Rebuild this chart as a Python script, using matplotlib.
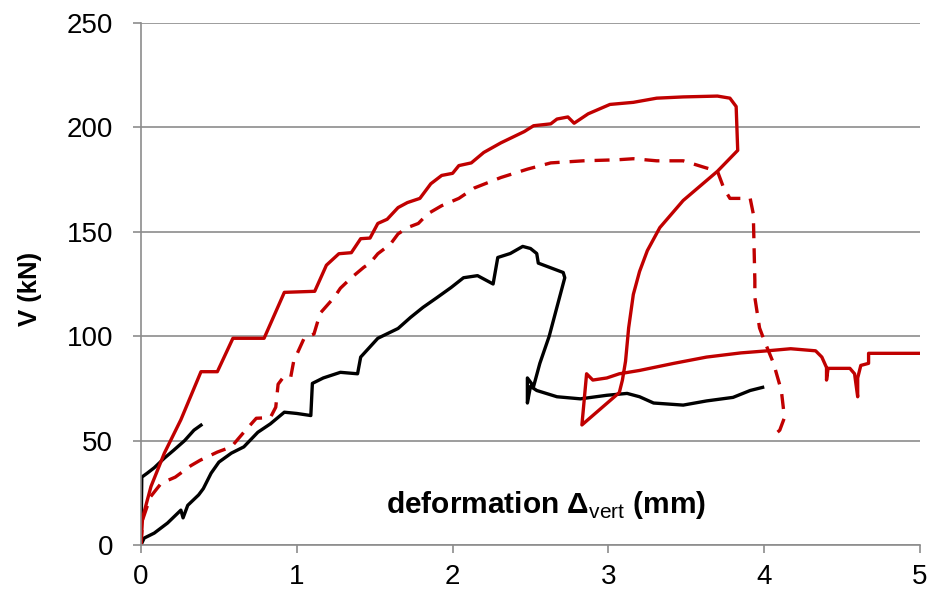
import matplotlib
matplotlib.use('Agg')
import matplotlib.pyplot as plt

plt.rcParams['font.family'] = ['Liberation Sans', 'DejaVu Sans']
plt.rcParams['mathtext.fontset'] = 'custom'
plt.rcParams['mathtext.rm'] = 'Liberation Sans'

# red solid curve (test with unloading loop)
red_x = [0, 0.01, 0.064, 0.15, 0.256, 0.385, 0.49, 0.59, 0.79, 0.92, 1.115, 1.19,
         1.27, 1.35, 1.41, 1.47, 1.52, 1.58, 1.65, 1.71, 1.79, 1.86, 1.93, 2.0,
         2.04, 2.12, 2.2, 2.31, 2.46, 2.52, 2.63, 2.67, 2.74, 2.78, 2.87, 3.01,
         3.16, 3.31, 3.48, 3.70, 3.78, 3.82, 3.83, 3.70, 3.48, 3.33, 3.25, 3.20,
         3.16, 3.13, 3.11, 3.09, 3.07, 2.83, 2.86, 2.9, 2.99, 3.07, 3.2, 3.42,
         3.63, 3.85, 4.02, 4.17, 4.33, 4.37, 4.40, 4.40, 4.41, 4.55, 4.58, 4.6,
         4.6, 4.62, 4.67, 4.67, 5.0]
red_y = [0, 13, 28, 44, 60, 83, 83, 99, 99, 121, 121.5, 134,
         139.5, 140, 146.7, 147, 154, 156, 161.6, 164, 166, 173, 177, 178,
         181.7, 183, 188, 192.6, 198, 200.8, 201.7, 204, 205, 202, 206.5, 211,
         212, 214, 214.6, 215, 214, 210, 189, 179, 165, 152, 141, 131,
         120, 104, 88, 79, 73, 57.5, 82, 79, 80, 82, 83.6, 87,
         90, 92, 93, 94, 93, 90, 85, 79, 84.6, 84.6, 82, 71,
         80, 86, 87, 91.8, 91.8]

# red dashed curve
dash_x = [0, 0.01, 0.06, 0.13, 0.22, 0.32, 0.38, 0.49, 0.58, 0.66, 0.74, 0.83,
          0.865, 0.88, 0.91, 0.96, 0.98, 1.05, 1.11, 1.15, 1.24, 1.28, 1.35,
          1.43, 1.47, 1.52, 1.6, 1.65, 1.71, 1.78, 1.84, 1.93, 2.04, 2.14, 2.31,
          2.48, 2.63, 2.84, 3.06, 3.16, 3.31, 3.48, 3.61, 3.70, 3.74, 3.78, 3.91,
          3.93, 3.94, 3.94, 3.97, 4.0, 4.06, 4.11, 4.13, 4.1, 4.05]
dash_y = [0, 12, 23, 29.6, 32.5, 38, 40.6, 44.5, 47, 54, 60.7, 61,
          66, 77, 80, 80, 88, 99.5, 101, 111, 118.6, 123, 128,
          133, 135, 139.5, 144, 149, 152, 154, 158.6, 162.5, 166, 171, 176,
          180, 183, 184, 184.5, 185, 184, 184, 181, 179, 171, 166, 166,
          158.6, 126.7, 118.5, 104, 98, 87, 74, 61, 55, 51.6]

# black long curve
blk_x = [0, 0.02, 0.085, 0.17, 0.256, 0.27, 0.3, 0.37, 0.4, 0.45, 0.5, 0.58,
         0.66, 0.75, 0.83, 0.92, 1.0, 1.09, 1.1, 1.17, 1.28, 1.39, 1.41, 1.52,
         1.65, 1.73, 1.81, 1.9, 1.99, 2.07, 2.16, 2.26, 2.29, 2.37, 2.45, 2.5,
         2.54, 2.55, 2.71, 2.72, 2.62, 2.56, 2.52, 2.48, 2.48, 2.5, 2.54, 2.67,
         2.82, 2.99, 3.12, 3.2, 3.29, 3.48, 3.63, 3.8, 3.91, 3.99]
blk_y = [0, 3.3, 5.7, 10.5, 16.7, 13, 19, 24, 27, 34.4, 39.7, 44,
         47, 54, 58, 63.6, 63, 62, 77.4, 80, 82.7, 82, 90, 99,
         103.7, 109, 113.8, 118.5, 123.3, 128, 129, 125, 137.7, 139.6, 143, 142,
         139.6, 135, 130.5, 128, 100, 87, 76, 80, 68, 76, 74, 71,
         70, 71.7, 72.6, 71, 68, 67, 69, 70.7, 74, 75.5]

# black short curve
short_x = [0, 0.005, 0.04, 0.085, 0.15, 0.21, 0.28, 0.34, 0.385]
short_y = [0, 32.5, 34.4, 37, 41.6, 45.4, 50, 55, 57.4]

red = '#C00000'
grey = '#8c8c8c'

fig = plt.figure(figsize=(9.42, 5.96), dpi=100)
ax = fig.add_axes([141/942, 51/596, 779/942, 522/596])

lw = 2.4
ax.plot(short_x, short_y, color='black', lw=lw, solid_joinstyle='round')
ax.plot(blk_x, blk_y, color='black', lw=lw, solid_joinstyle='round')
ax.plot(dash_x, dash_y, color=red, lw=lw, dashes=(4.5, 3))
ax.plot(red_x, red_y, color=red, lw=lw, solid_joinstyle='round')

ax.set_xlim(0, 5)
ax.set_ylim(0, 250)
ax.set_xticks(range(0, 6))
ax.set_yticks(range(0, 251, 50))
ax.yaxis.grid(True, color=grey, lw=1.2)
ax.set_axisbelow(True)

for s in ['top', 'right']:
    ax.spines[s].set_visible(False)
for s in ['left', 'bottom']:
    ax.spines[s].set_color(grey)
    ax.spines[s].set_linewidth(1.2)
ax.tick_params(axis='both', colors=grey, length=6, width=1.2, labelsize=20,
               labelcolor='black')
ax.tick_params(axis='y', pad=14)
ax.tick_params(axis='x', pad=8)

ax.set_xlabel('deformation Δ$_{\\mathrm{vert}}$ (mm)', fontsize=21.5,
              fontweight='bold', va='center')
ax.xaxis.set_label_coords(0.52, 0.077)
ax.set_ylabel('V (kN)', fontsize=18.5, fontweight='bold', va='center')
ax.yaxis.set_label_coords(-0.142, 0.49)

fig.savefig('out.png', dpi=100)
